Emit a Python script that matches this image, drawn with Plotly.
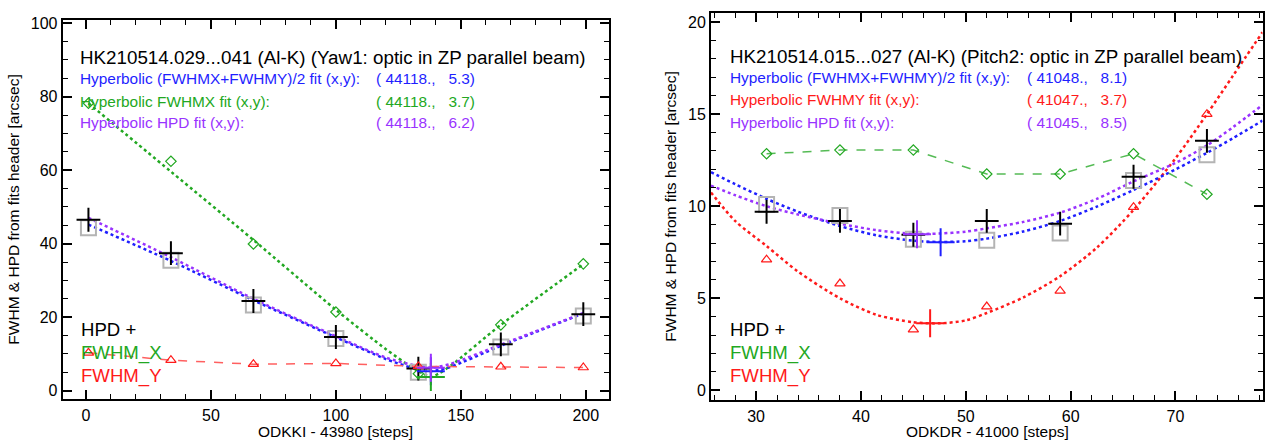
import plotly.graph_objects as go

W, H = 1266, 441

# ---- left panel: Yaw1 (HK210514.029...041) ----
yaw_steps = [1, 34, 67, 100, 133, 166, 199]
yaw_hpd = [46.5, 37.4, 24.4, 14.6, 6.0, 12.6, 20.8]
yaw_fwhm_avg = [44.3, 35.5, 23.3, 14.2, 5.0, 11.9, 20.3]
yaw_fwhm_x = [78.2, 62.4, 39.9, 21.4, 4.6, 17.9, 34.5]
yaw_fwhm_y = [10.3, 8.3, 7.2, 7.4, 6.6, 6.5, 6.3]

yaw_fit_steps = [1, 34, 67, 100, 120, 130, 135, 138, 141, 146, 166, 199]
yaw_fit_avg = [45.2, 35.3, 24.6, 14.5, 8.6, 6.3, 5.6, 5.3, 5.6, 6.5, 12.2, 21.0]
yaw_fit_hpd = [47.0, 36.3, 25.0, 14.8, 9.0, 7.1, 6.5, 6.2, 6.5, 7.3, 12.5, 21.1]
yaw_fit_x = [78.2, 59.6, 41.0, 22.0, 11.3, 6.5, 4.6, 3.7, 4.6, 6.8, 17.9, 34.4]

yaw_min_steps = [138, 138, 138]      # avg, X, HPD
yaw_min_vals = [5.3, 3.7, 6.2]
yaw_labels = ["Hyperbolic (FWHMX+FWHMY)/2 fit (x,y):", "Hyperbolic FWHMX fit (x,y):",
              "Hyperbolic HPD fit (x,y):"]
yaw_values = ["( 44118.,   5.3)", "( 44118.,   3.7)", "( 44118.,   6.2)"]

# ---- right panel: Pitch2 (HK210514.015...027) ----
pitch_steps = [31, 38, 45, 52, 59, 66, 73]
pitch_hpd = [9.7, 9.2, 8.45, 9.2, 9.05, 11.6, 13.55]
pitch_fwhm_avg = [10.1, 9.5, 8.2, 8.15, 8.55, 11.4, 12.8]
pitch_fwhm_x = [12.85, 13.05, 13.05, 11.75, 11.75, 12.85, 10.65]
pitch_fwhm_y = [7.1, 5.8, 3.3, 4.55, 5.4, 9.95, 15.0]

pitch_fit_steps = [25.7, 28, 31, 34, 38, 41.5, 45, 47.5, 50, 52, 55.5, 59, 62.5, 66, 70, 73, 75.5, 78.3]
pitch_fit_avg = [11.85, 11.2, 10.4, 9.7, 8.92, 8.42, 8.13, 8.06, 8.1, 8.24, 8.63, 9.2, 9.98, 10.88, 12.0, 12.9, 13.7, 14.65]
pitch_fit_hpd = [11.12, 10.6, 10.0, 9.55, 9.05, 8.7, 8.5, 8.52, 8.62, 8.8, 9.15, 9.65, 10.4, 11.35, 12.35, 13.3, 14.3, 15.5]
pitch_fit_y = [10.75, 9.2, 7.84, 6.45, 5.0, 4.1, 3.7, 3.64, 3.8, 4.2, 5.05, 6.2, 7.75, 9.8, 12.6, 15.0, 17.1, 19.45]

pitch_min_steps = [47.6, 46.6, 45.35]   # avg, Y, HPD
pitch_min_vals = [8.05, 3.65, 8.48]
pitch_labels = ["Hyperbolic (FWHMX+FWHMY)/2 fit (x,y):", "Hyperbolic FWHMY fit (x,y):",
                "Hyperbolic HPD fit (x,y):"]
pitch_values = ["( 41048.,   8.1)", "( 41047.,   3.7)", "( 41045.,   8.5)"]

BLUE = "#1f1fff"
GREEN = "#22a822"
RED = "#ff1a1a"
PURPLE = "#9933ff"
GRAY = "#b4b4b4"
FONT = "Liberation Sans, Arial, Helvetica, sans-serif"

fig = go.Figure()


def add_panel(xa, ya, steps, hpd, avg, fx, fy, fit_steps, fits, mins, min_colors, dashed):
    # fit curves
    for vals, col in fits:
        fig.add_trace(go.Scatter(x=fit_steps, y=vals, mode="lines", xaxis=xa, yaxis=ya,
                                 line=dict(color=col, width=2.5, dash="dot", shape="spline",
                                           smoothing=0.8)))
    # measured series
    fig.add_trace(go.Scatter(x=steps, y=avg, mode="markers", xaxis=xa, yaxis=ya,
                             marker=dict(symbol="square-open", size=15, color=GRAY,
                                         line=dict(color=GRAY, width=2))))
    fig.add_trace(go.Scatter(x=steps, y=hpd, mode="markers", xaxis=xa, yaxis=ya,
                             marker=dict(symbol="cross-thin-open", size=17, color="black",
                                         line=dict(color="black", width=2))))
    fig.add_trace(go.Scatter(x=steps, y=fx, mode="markers+lines" if dashed == "x" else "markers",
                             xaxis=xa, yaxis=ya,
                             line=dict(color="#55bb55", width=1.5, dash="dash"),
                             marker=dict(symbol="diamond-open", size=8, color=GREEN,
                                         line=dict(color=GREEN, width=1.2))))
    fig.add_trace(go.Scatter(x=steps, y=fy, mode="markers+lines" if dashed == "y" else "markers",
                             xaxis=xa, yaxis=ya,
                             line=dict(color="#ff6060", width=1.5, dash="dash"),
                             marker=dict(symbol="triangle-up-open", size=9, color=RED,
                                         line=dict(color=RED, width=1.2))))
    # fit minima
    for (mx, my), col in zip(mins, min_colors):
        fig.add_trace(go.Scatter(x=[mx], y=[my], mode="markers", xaxis=xa, yaxis=ya,
                                 marker=dict(symbol="cross-thin-open", size=20, color=col,
                                             line=dict(color=col, width=2))))


add_panel("x", "y", yaw_steps, yaw_hpd, yaw_fwhm_avg, yaw_fwhm_x, yaw_fwhm_y,
          yaw_fit_steps, [(yaw_fit_x, GREEN), (yaw_fit_avg, BLUE), (yaw_fit_hpd, PURPLE)],
          list(zip(yaw_min_steps, yaw_min_vals)), [BLUE, GREEN, PURPLE], dashed="y")
add_panel("x2", "y2", pitch_steps, pitch_hpd, pitch_fwhm_avg, pitch_fwhm_x, pitch_fwhm_y,
          pitch_fit_steps, [(pitch_fit_y, RED), (pitch_fit_avg, BLUE), (pitch_fit_hpd, PURPLE)],
          list(zip(pitch_min_steps, pitch_min_vals)), [BLUE, RED, PURPLE], dashed="x")


def axis(domain, rng, dtick, minor, anchor):
    return dict(domain=domain, range=rng, dtick=dtick, anchor=anchor,
                showline=True, linecolor="black", linewidth=2, mirror="allticks",
                ticks="inside", ticklen=9, tickwidth=1.5, tickcolor="black",
                minor=dict(ticks="inside", ticklen=5, tickwidth=1.2, dtick=minor, tickcolor="black"),
                showgrid=False, zeroline=False,
                tickfont=dict(family=FONT, size=16, color="black"))


def pxx(v):
    return v / W


def pxy(v):
    return 1 - v / H


fig.update_layout(
    width=W, height=H, margin=dict(l=0, r=0, t=0, b=0),
    paper_bgcolor="white", plot_bgcolor="white", showlegend=False,
    font=dict(family=FONT, color="black"),
    xaxis=axis([pxx(62.7), pxx(609.3)], [-9.3, 209.4], 50, 10, "y"),
    yaxis=axis([pxy(399), pxy(15)], [-2.4, 100.9], 20, 5, "x"),
    xaxis2=axis([pxx(711), pxx(1262.5)], [25.7, 78.3], 10, 2, "y2"),
    yaxis2=axis([pxy(400), pxy(8)], [-0.55, 20.5], 5, 1, "x2"),
)

ann = []


def text(x, y, s, size, color="black", anchor="left", angle=0):
    ann.append(dict(x=pxx(x), y=pxy(y), xref="paper", yref="paper", text=s, showarrow=False,
                    xanchor=anchor, yanchor="middle", textangle=angle,
                    font=dict(family=FONT, size=size, color=color)))


# panel headers
text(78, 53, "HK210514.029...041 (Al-K) (Yaw1: optic in ZP parallel beam)", 18.8)
text(727.5, 52.5, "HK210514.015...027 (Al-K) (Pitch2: optic in ZP parallel beam)", 18.8)
for i, (lab, val, col) in enumerate(zip(yaw_labels, yaw_values, [BLUE, GREEN, PURPLE])):
    yy = [74, 97.5, 118.7][i]
    text(78, yy, lab, 15.4, col)
    text(373.5, yy, val.replace(" ", "\u00a0"), 15.4, col)
for i, (lab, val, col) in enumerate(zip(pitch_labels, pitch_values, [BLUE, RED, PURPLE])):
    yy = [73, 96, 118.5][i]
    text(727.5, yy, lab, 15.4, col)
    text(1025, yy, val.replace(" ", "\u00a0"), 15.4, col)

# series key
for x0 in (79, 728):
    text(x0, 328.3, "HPD +", 18.6, "black")
    text(x0, 351.7, "FWHM_X", 18.6, GREEN)
    text(x0, 375, "FWHM_Y", 18.6, RED)

# axis titles
text(335, 431, "ODKKI - 43980 [steps]", 15.5, anchor="center")
text(987, 431, "ODKDR - 41000 [steps]", 15.5, anchor="center")
text(14, 207, "FWHM &amp; HPD from fits header [arcsec]", 15.5, anchor="center", angle=-90)
text(671, 204, "FWHM &amp; HPD from fits header [arcsec]", 15.5, anchor="center", angle=-90)

fig.update_layout(annotations=ann)
fig.write_html("out.html", config={"displayModeBar": False},
               post_script="document.body.style.margin='0';document.body.style.overflow='hidden';")
